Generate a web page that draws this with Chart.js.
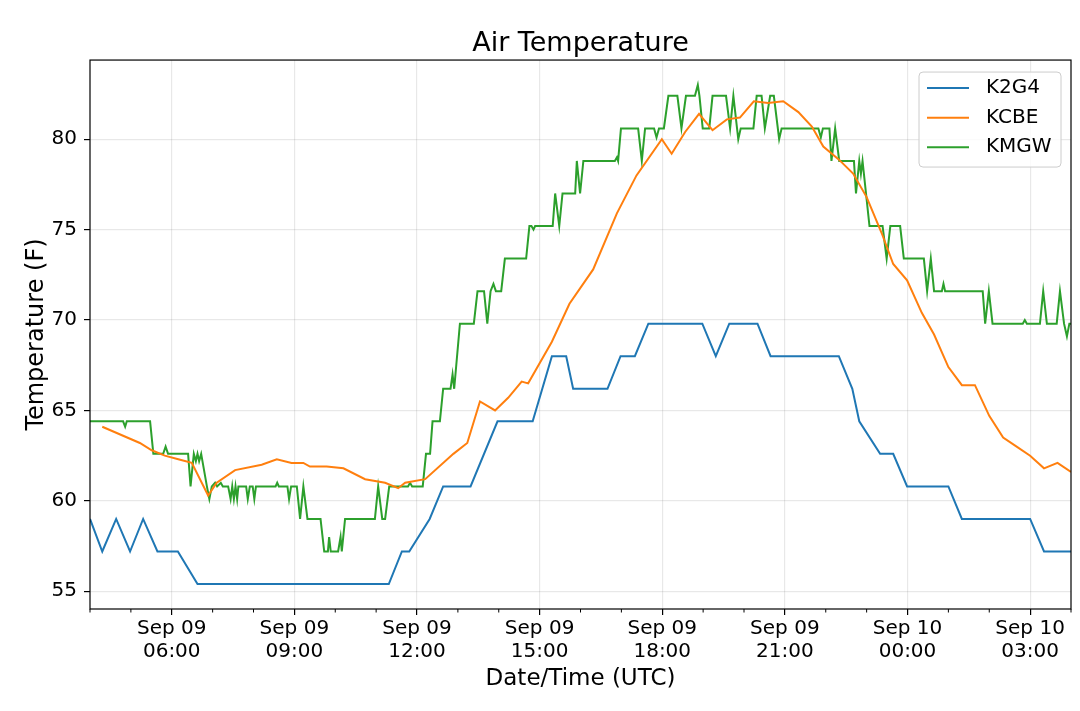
<!DOCTYPE html>
<html>
<head>
<meta charset="utf-8">
<title>Air Temperature</title>
<script src="https://cdn.jsdelivr.net/npm/chart.js@4.4.1/dist/chart.umd.min.js"></script>
<style>
  html, body { margin: 0; padding: 0; background: #fff; }
  #chart { display: block; }
</style>
</head>
<body>
<canvas id="chart" width="1080" height="711"></canvas>
<script>
// Times are hours since Sep 09 00:00 UTC, temperatures in F
const k2g4Hours = [
  4.00, 4.30, 4.64, 4.98, 5.30, 5.65, 6.15, 6.63, 11.31, 11.63,
  11.81, 12.31, 12.64, 13.31, 13.97, 14.83, 15.30, 15.65, 15.82, 16.66,
  16.98, 17.33, 17.66, 18.98, 19.31, 19.64, 20.33, 20.65, 22.32, 22.65,
  22.82, 23.33, 23.65, 23.99, 25.00, 25.33, 27.00, 27.34, 28.00
];
const k2g4Temps = [
  59, 57.2, 59, 57.2, 59, 57.2, 57.2, 55.4, 55.4, 57.2,
  57.2, 59, 60.8, 60.8, 64.4, 64.4, 68, 68, 66.2, 66.2,
  68, 68, 69.8, 69.8, 68, 69.8, 69.8, 68, 68, 66.2,
  64.4, 62.6, 62.6, 60.8, 60.8, 59, 59, 57.2, 57.2
];

const kcbeHours = [
  4.30, 5.22, 5.51, 5.83, 6.16, 6.49, 6.89, 7.10, 7.55, 8.20,
  8.57, 8.93, 9.22, 9.38, 9.79, 10.20, 10.73, 11.22, 11.54, 11.71,
  12.20, 12.89, 13.23, 13.54, 13.91, 14.23, 14.56, 14.72, 15.30, 15.73,
  16.31, 16.89, 17.37, 17.99, 18.23, 18.56, 18.90, 19.23, 19.58, 19.90,
  20.24, 20.59, 20.96, 21.33, 21.66, 21.94, 22.31, 22.67, 23.00, 23.37,
  23.65, 23.99, 24.35, 24.65, 25.00, 25.33, 25.65, 26.00, 26.34, 26.67,
  27.00, 27.34, 27.67, 28.00
];
const kcbeTemps = [
  64.1, 63.2, 62.8, 62.5, 62.3, 62.1, 60.3, 61.0, 61.7, 62.0,
  62.3, 62.1, 62.1, 61.9, 61.9, 61.8, 61.2, 61.0, 60.7, 61.0,
  61.2, 62.6, 63.2, 65.5, 65.0, 65.7, 66.6, 66.5, 68.8, 70.9,
  72.8, 75.9, 78.0, 80.0, 79.2, 80.4, 81.4, 80.5, 81.1, 81.2,
  82.1, 82.0, 82.1, 81.5, 80.7, 79.6, 78.9, 78.1, 76.8, 74.8,
  73.1, 72.2, 70.4, 69.2, 67.4, 66.4, 66.4, 64.7, 63.5, 63.0,
  62.5, 61.8, 62.1, 61.6
];

const kmgwHours = [
  4.00, 4.81, 4.86, 4.90, 5.47, 5.55, 5.79, 5.85, 5.91, 6.40,
  6.46, 6.54, 6.59, 6.63, 6.67, 6.72, 6.86, 6.92, 6.98, 7.06,
  7.11, 7.20, 7.25, 7.38, 7.44, 7.48, 7.52, 7.56, 7.60, 7.63,
  7.82, 7.86, 7.91, 7.98, 8.02, 8.06, 8.54, 8.58, 8.62, 8.83,
  8.87, 8.92, 9.06, 9.14, 9.22, 9.32, 9.64, 9.73, 9.82, 9.85,
  9.89, 10.07, 10.13, 10.16, 10.24, 10.97, 11.05, 11.15, 11.22, 11.32,
  11.78, 11.83, 11.88, 12.14, 12.22, 12.32, 12.38, 12.56, 12.64, 12.82,
  12.87, 12.91, 13.05, 13.39, 13.48, 13.64, 13.72, 13.80, 13.87, 13.93,
  14.06, 14.15, 14.67, 14.75, 14.80, 14.85, 14.89, 15.32, 15.38, 15.48,
  15.56, 15.87, 15.91, 15.99, 16.07, 16.84, 16.89, 16.92, 16.99, 17.41,
  17.50, 17.58, 17.80, 17.86, 17.92, 18.04, 18.15, 18.37, 18.47, 18.58,
  18.80, 18.87, 18.91, 18.99, 19.15, 19.23, 19.56, 19.66, 19.74, 19.86,
  19.92, 20.23, 20.31, 20.43, 20.51, 20.64, 20.73, 20.86, 20.92, 21.82,
  21.88, 21.93, 22.09, 22.14, 22.23, 22.33, 22.69, 22.74, 22.82, 22.86,
  22.90, 23.07, 23.39, 23.49, 23.58, 23.82, 23.91, 24.40, 24.48, 24.57,
  24.65, 24.84, 24.88, 24.92, 25.84, 25.90, 25.99, 26.08, 26.82, 26.87,
  26.92, 27.24, 27.32, 27.41, 27.65, 27.73, 27.83, 27.90, 27.96, 28.00
];
const kmgwTemps = [
  64.4, 64.4, 64.1, 64.4, 64.4, 62.6, 62.6, 63.0, 62.6, 62.6,
  60.8, 62.6, 62.2, 62.6, 62.2, 62.6, 60.8, 60.1, 60.8, 61.0,
  60.8, 61.0, 60.8, 60.8, 60.1, 60.8, 60.1, 60.8, 60.1, 60.8,
  60.8, 60.1, 60.8, 60.8, 60.1, 60.8, 60.8, 61.0, 60.8, 60.8,
  60.1, 60.8, 60.8, 59.0, 60.8, 59.0, 59.0, 57.2, 57.2, 58.0,
  57.2, 57.2, 58.0, 57.2, 59.0, 59.0, 60.8, 59.0, 59.0, 60.8,
  60.8, 61.0, 60.8, 60.8, 62.6, 62.6, 64.4, 64.4, 66.2, 66.2,
  67.0, 66.2, 69.8, 69.8, 71.6, 71.6, 69.8, 71.6, 72.0, 71.6,
  71.6, 73.4, 73.4, 75.2, 75.2, 75.0, 75.2, 75.2, 77.0, 75.2,
  77.0, 77.0, 78.8, 77.0, 78.8, 78.8, 79.0, 78.8, 80.6, 80.6,
  78.8, 80.6, 80.6, 80.1, 80.6, 80.6, 82.4, 82.4, 80.6, 82.4,
  82.4, 83.0, 82.4, 80.6, 80.6, 82.4, 82.4, 80.6, 82.4, 80.0,
  80.6, 80.6, 82.4, 82.4, 80.6, 82.4, 82.4, 80.0, 80.6, 80.6,
  80.1, 80.6, 80.6, 78.8, 80.6, 78.8, 78.8, 77.0, 78.8, 78.1,
  78.8, 75.2, 75.2, 73.4, 75.2, 75.2, 73.4, 73.4, 71.6, 73.4,
  71.6, 71.6, 72.0, 71.6, 71.6, 69.8, 71.6, 69.8, 69.8, 70.0,
  69.8, 69.8, 71.6, 69.8, 69.8, 71.6, 69.8, 69.1, 69.8, 69.8
];

// Axis ticks
const tickHours = [6, 9, 12, 15, 18, 21, 24, 27];
const tickLabels = [
  ['Sep 09', '06:00'], ['Sep 09', '09:00'], ['Sep 09', '12:00'], ['Sep 09', '15:00'],
  ['Sep 09', '18:00'], ['Sep 09', '21:00'], ['Sep 10', '00:00'], ['Sep 10', '03:00']
];
const tempTicks = [55, 60, 65, 70, 75, 80];

const FONT = '"DejaVu Sans", "Liberation Sans", sans-serif';

function toPoints(hours, temps) {
    return hours.map((h, i) => ({ x: h, y: temps[i] }));
}

// Hourly minor ticks, the box around the axes and a matplotlib-style legend
const axesDecor = {
    id: 'axesDecor',
    afterDraw(chart) {
        const { ctx, chartArea: a } = chart;
        const x = chart.scales.x;
        ctx.save();

        ctx.strokeStyle = '#000';
        ctx.lineWidth = 1;
        for (let h = Math.ceil(x.min); h <= x.max; h++) {
            if (tickHours.includes(h)) continue;
            const px = x.getPixelForValue(h);
            ctx.beginPath();
            ctx.moveTo(px, a.bottom);
            ctx.lineTo(px, a.bottom + 3.5);
            ctx.stroke();
        }

        ctx.lineWidth = 1.2;
        ctx.strokeRect(a.left, a.top, a.right - a.left, a.bottom - a.top);

        const w = 142, h = 95;
        const bx = a.right - 10 - w, by = a.top + 12;
        ctx.beginPath();
        ctx.roundRect(bx, by, w, h, 4);
        ctx.fillStyle = 'rgba(255, 255, 255, 0.8)';
        ctx.fill();
        ctx.strokeStyle = '#cccccc';
        ctx.lineWidth = 1;
        ctx.stroke();

        ctx.font = '20px ' + FONT;
        ctx.textBaseline = 'middle';
        chart.data.datasets.forEach((ds, i) => {
            const y = by + 16 + i * 29.6;
            ctx.strokeStyle = ds.borderColor;
            ctx.lineWidth = 2;
            ctx.beginPath();
            ctx.moveTo(bx + 8, y);
            ctx.lineTo(bx + 50, y);
            ctx.stroke();
            ctx.fillStyle = '#000';
            ctx.fillText(ds.label, bx + 67, y);
        });

        ctx.restore();
    }
};

new Chart(document.getElementById('chart'), {
    type: 'line',
    data: {
        datasets: [
            { label: 'K2G4', data: toPoints(k2g4Hours, k2g4Temps), borderColor: '#1f77b4' },
            { label: 'KCBE', data: toPoints(kcbeHours, kcbeTemps), borderColor: '#ff7f0e' },
            { label: 'KMGW', data: toPoints(kmgwHours, kmgwTemps), borderColor: '#2ca02c' }
        ]
    },
    options: {
        responsive: false,
        animation: false,
        layout: {
            padding: { left: 0, right: 9, top: 0, bottom: 0 }
        },
        elements: {
            point: { radius: 0 },
            line: { borderWidth: 2, tension: 0, fill: false }
        },
        plugins: {
            legend: { display: false },
            tooltip: { enabled: false },
            title: {
                display: true,
                fullSize: false,
                text: 'Air Temperature',
                color: '#000',
                font: { family: FONT, size: 27, weight: 'normal', lineHeight: 1.15 },
                padding: { top: 28.5, bottom: 0.5 }
            }
        },
        scales: {
            x: {
                type: 'linear',
                min: 4,
                max: 28,
                afterBuildTicks: (scale) => {
                    scale.ticks = tickHours.map(v => ({ value: v }));
                },
                afterFit: (scale) => {
                    scale.height = 102;
                },
                ticks: {
                    autoSkip: false,
                    maxRotation: 0,
                    padding: 2,
                    color: '#000',
                    font: { family: FONT, size: 20, lineHeight: 1.165 },
                    callback: (value) => tickLabels[tickHours.indexOf(value)]
                },
                grid: {
                    color: 'rgba(0, 0, 0, 0.09)',
                    lineWidth: 1.2,
                    tickLength: 6,
                    tickColor: '#000',
                    tickWidth: 1.2
                },
                border: { display: false },
                title: {
                    display: true,
                    text: 'Date/Time (UTC)',
                    color: '#000',
                    font: { family: FONT, size: 23, lineHeight: 1.2 },
                    padding: { top: 0, bottom: 18 }
                }
            },
            y: {
                min: 54.02,
                max: 84.38,
                afterBuildTicks: (scale) => {
                    scale.ticks = tempTicks.map(v => ({ value: v }));
                },
                afterFit: (scale) => {
                    scale.width = 90;
                },
                ticks: {
                    padding: 7,
                    color: '#000',
                    font: { family: FONT, size: 20 },
                    callback: (value) => String(value)
                },
                grid: {
                    color: 'rgba(0, 0, 0, 0.09)',
                    lineWidth: 1.2,
                    tickLength: 6,
                    tickColor: '#000',
                    tickWidth: 1.2
                },
                border: { display: false },
                title: {
                    display: true,
                    text: 'Temperature (F)',
                    color: '#000',
                    font: { family: FONT, size: 24, lineHeight: 1.2 },
                    padding: { top: 22, bottom: 0 }
                }
            }
        }
    },
    plugins: [axesDecor]
});
</script>
</body>
</html>
